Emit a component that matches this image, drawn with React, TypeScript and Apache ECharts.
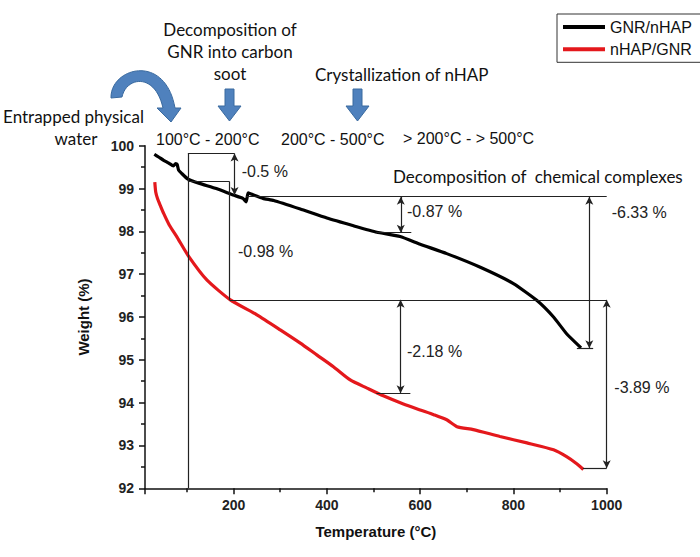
import React, { useEffect, useRef } from "react";
import * as echarts from "echarts";

// ---- data ----
const seriesNames = ["GNR/nHAP", "nHAP/GNR"];

const gnrNhap: [number, number][] = [
  [30, 99.8], [40, 99.73], [50, 99.66], [60, 99.6], [71, 99.53], [75.5, 99.58], [79, 99.56],
  [82, 99.43], [88, 99.36], [102, 99.22], [127, 99.12], [163, 99.0], [199, 98.85], [220, 98.77],
  [227, 98.69], [231, 98.9], [238, 98.87], [263, 98.77], [286, 98.72], [343, 98.52], [400, 98.31],
  [457, 98.13], [507, 97.98], [557, 97.88], [600, 97.7], [657, 97.48], [729, 97.16], [800, 96.78],
  [850, 96.39], [886, 96.0], [914, 95.61], [945, 95.28],
];

const nhapGnr: [number, number][] = [
  [31, 99.15], [33, 98.92], [37, 98.76], [43, 98.6], [50, 98.42], [62, 98.15], [79, 97.86],
  [104, 97.41], [143, 96.86], [193, 96.4], [250, 96.05], [300, 95.7], [343, 95.39], [379, 95.11],
  [414, 94.84], [450, 94.53], [486, 94.34], [521, 94.16], [564, 93.97], [600, 93.83], [629, 93.72],
  [657, 93.6], [679, 93.44], [714, 93.37], [771, 93.21], [829, 93.06], [886, 92.9], [914, 92.74],
  [935, 92.58], [950, 92.44],
];

// bracket lines (no arrow heads), in data coordinates
const bracketLines: [[number, number], [number, number]][] = [
  [[102, 99.82], [102, 92]],
  [[102, 99.82], [202, 99.82]],
  [[102, 99.16], [191.5, 99.16]],
  [[191.5, 99.16], [191.5, 96.4]],
  [[191.5, 96.4], [1000, 96.4]],
  [[227, 98.81], [1000, 98.81]],
  [[506, 97.97], [581, 97.97]],
  [[936, 95.27], [971, 95.27]],
  [[949, 92.47], [1000, 92.47]],
  [[506, 94.22], [579, 94.22]],
];

// double-headed measurement arrows, in data coordinates
const measureArrows: [[number, number], [number, number]][] = [
  [[202, 99.82], [202, 98.85]],
  [[558.5, 98.81], [558.5, 97.97]],
  [[962.7, 98.81], [962.7, 95.27]],
  [[1000, 96.4], [1000, 92.47]],
  [[558, 96.4], [558, 94.22]],
];

const lossLabels = ["-0.5 %", "-0.98 %", "-0.87 %", "-6.33 %", "-2.18 %", "-3.89 %"];
const rangeLabels = ["100°C - 200°C", "200°C - 500°C", "> 200°C - > 500°C"];
const stageLabels = [
  "Entrapped physical",
  "water",
  "Decomposition of",
  "GNR into carbon",
  "soot",
  "Crystallization of nHAP",
  "Decomposition of  chemical complexes",
];

const curvedArrowPath =
  "M111 98 C110 68 165 52 175 108 L181 108 L171 122 L157 108 L163 108 C155 72 126 77 122 97 Z";

echarts.graphic.registerShape("curvedArrow", echarts.graphic.extendPath(curvedArrowPath, {}) as any);

const CALIBRI = "Lato, Noto Sans, sans-serif";
const ARIAL = "Liberation Sans, Arial, sans-serif";

function downArrow(cx: number) {
  const top = 89, headY = 106, tip = 121, sw = 4.5, hw = 11.5;
  return {
    type: "polygon",
    shape: {
      points: [
        [cx - sw, top], [cx + sw, top], [cx + sw, headY], [cx + hw, headY],
        [cx, tip], [cx - hw, headY], [cx - sw, headY],
      ],
    },
    style: { fill: "#4f81bd", stroke: "#3a6a9f", lineWidth: 1 },
    silent: true,
  };
}

function txt(text: string, x: number, y: number, font: string, size: number, align = "left", fill = "#111") {
  return {
    type: "text",
    x,
    y,
    silent: true,
    style: {
      text,
      fill,
      fontSize: size,
      fontFamily: font,
      align,
      verticalAlign: "middle",
      textAlign: align,
      textVerticalAlign: "middle",
    },
  };
}

export default function App() {
  const ref = useRef<HTMLDivElement>(null);

  useEffect(() => {
    if (!ref.current) return;
    const chart = echarts.init(ref.current, undefined, { renderer: "svg" });

    const markData: any[] = [
      ...bracketLines.map(([a, b]) => [
        { coord: a, symbol: "none" },
        { coord: b, symbol: "none" },
      ]),
      ...measureArrows.map(([a, b]) => [
        { coord: a, symbol: "arrow" },
        { coord: b, symbol: "arrow" },
      ]),
    ];

    const axisLabelStyle = {
      fontFamily: ARIAL,
      fontWeight: "bold",
      fontSize: 14,
      color: "#222",
    };

    chart.setOption({
      animation: false,
      backgroundColor: "#ffffff",
      grid: { left: 145, right: 93.3, top: 145.7, bottom: 68.7, containLabel: false },
      legend: {
        data: seriesNames,
        orient: "vertical",
        left: 557,
        top: 14,
        padding: [4, 10, 4, 6],
        itemGap: 4.3,
        itemWidth: 42,
        itemHeight: 4,
        icon: "rect",
        borderColor: "#333",
        borderWidth: 1,
        textStyle: { fontFamily: ARIAL, fontSize: 16, color: "#111", lineHeight: 18 },
        selectedMode: false,
      },
      xAxis: {
        type: "value",
        min: 10,
        max: 1000,
        splitNumber: 5,
        name: "Temperature (°C)",
        nameLocation: "middle",
        nameGap: 36,
        nameTextStyle: { fontFamily: ARIAL, fontWeight: "bold", fontSize: 15, color: "#111" },
        axisLine: { show: true, lineStyle: { color: "#111", width: 1.5 } },
        axisTick: { show: true, length: 6, lineStyle: { color: "#111", width: 1.5 } },
        minorTick: { show: true, splitNumber: 2, length: 4, lineStyle: { color: "#111", width: 1.5 } },
        axisLabel: {
          ...axisLabelStyle,
          showMinLabel: false,
          margin: 10,
          formatter: (v: number) => String(v),
        },
        splitLine: { show: false },
      },
      yAxis: {
        type: "value",
        min: 92,
        max: 100,
        interval: 1,
        name: "Weight (%)",
        nameLocation: "middle",
        nameGap: 54,
        nameTextStyle: { fontFamily: ARIAL, fontWeight: "bold", fontSize: 15, color: "#111" },
        axisLine: { show: true, lineStyle: { color: "#111", width: 1.5 } },
        axisTick: { show: true, length: 6, lineStyle: { color: "#111", width: 1.5 } },
        minorTick: { show: true, splitNumber: 2, length: 4, lineStyle: { color: "#111", width: 1.5 } },
        axisLabel: { ...axisLabelStyle, margin: 11, formatter: (v: number) => String(v) },
        splitLine: { show: false },
      },
      series: [
        {
          name: "annotations",
          type: "line",
          data: [],
          silent: true,
          markLine: {
            silent: true,
            animation: false,
            symbolSize: [6, 8],
            label: { show: false },
            lineStyle: { color: "#222", width: 1.2, type: "solid" },
            emphasis: { disabled: true },
            data: markData,
          },
        },
        {
          name: seriesNames[1],
          type: "line",
          data: nhapGnr,
          showSymbol: false,
          smooth: 0.2,
          lineStyle: { color: "#e4181c", width: 3.2 },
          itemStyle: { color: "#e4181c" },
          z: 3,
        },
        {
          name: seriesNames[0],
          type: "line",
          data: gnrNhap,
          showSymbol: false,
          smooth: 0.15,
          lineStyle: { color: "#000000", width: 3.2 },
          itemStyle: { color: "#000000" },
          z: 4,
        },
      ],
      graphic: [
        {
          type: "curvedArrow",
          x: 0,
          y: 0,
          silent: true,
          style: { fill: "#4f81bd", stroke: "#3a6a9f", lineWidth: 1 },
        },
        downArrow(229.5),
        downArrow(357.5),
        txt(stageLabels[0], 73.5, 116, CALIBRI, 17, "center"),
        txt(stageLabels[1], 76, 138.5, CALIBRI, 17, "center"),
        txt(stageLabels[2], 230, 29, CALIBRI, 17, "center"),
        txt(stageLabels[3], 230, 51.5, CALIBRI, 17, "center"),
        txt(stageLabels[4], 230, 73.5, CALIBRI, 17, "center"),
        txt(stageLabels[5], 401.7, 74, CALIBRI, 17, "center"),
        txt(stageLabels[6], 393, 176.7, CALIBRI, 17, "left"),
        txt(rangeLabels[0], 156, 139, ARIAL, 16, "left"),
        txt(rangeLabels[1], 281, 139, ARIAL, 16, "left"),
        txt(rangeLabels[2], 403, 138.3, ARIAL, 16, "left"),
        txt(lossLabels[0], 241.7, 171.5, ARIAL, 16, "left", "#222"),
        txt(lossLabels[1], 238, 251.5, ARIAL, 16, "left", "#222"),
        txt(lossLabels[2], 407, 211.5, ARIAL, 16, "left", "#222"),
        txt(lossLabels[3], 611.7, 212, ARIAL, 16, "left", "#222"),
        txt(lossLabels[4], 407, 351.5, ARIAL, 16, "left", "#222"),
        txt(lossLabels[5], 614.3, 387.3, ARIAL, 16, "left", "#222"),
      ],
    });

    return () => chart.dispose();
  }, []);

  return <div ref={ref} style={{ width: 700, height: 557, position: "absolute", left: 0, top: 0 }} />;
}
